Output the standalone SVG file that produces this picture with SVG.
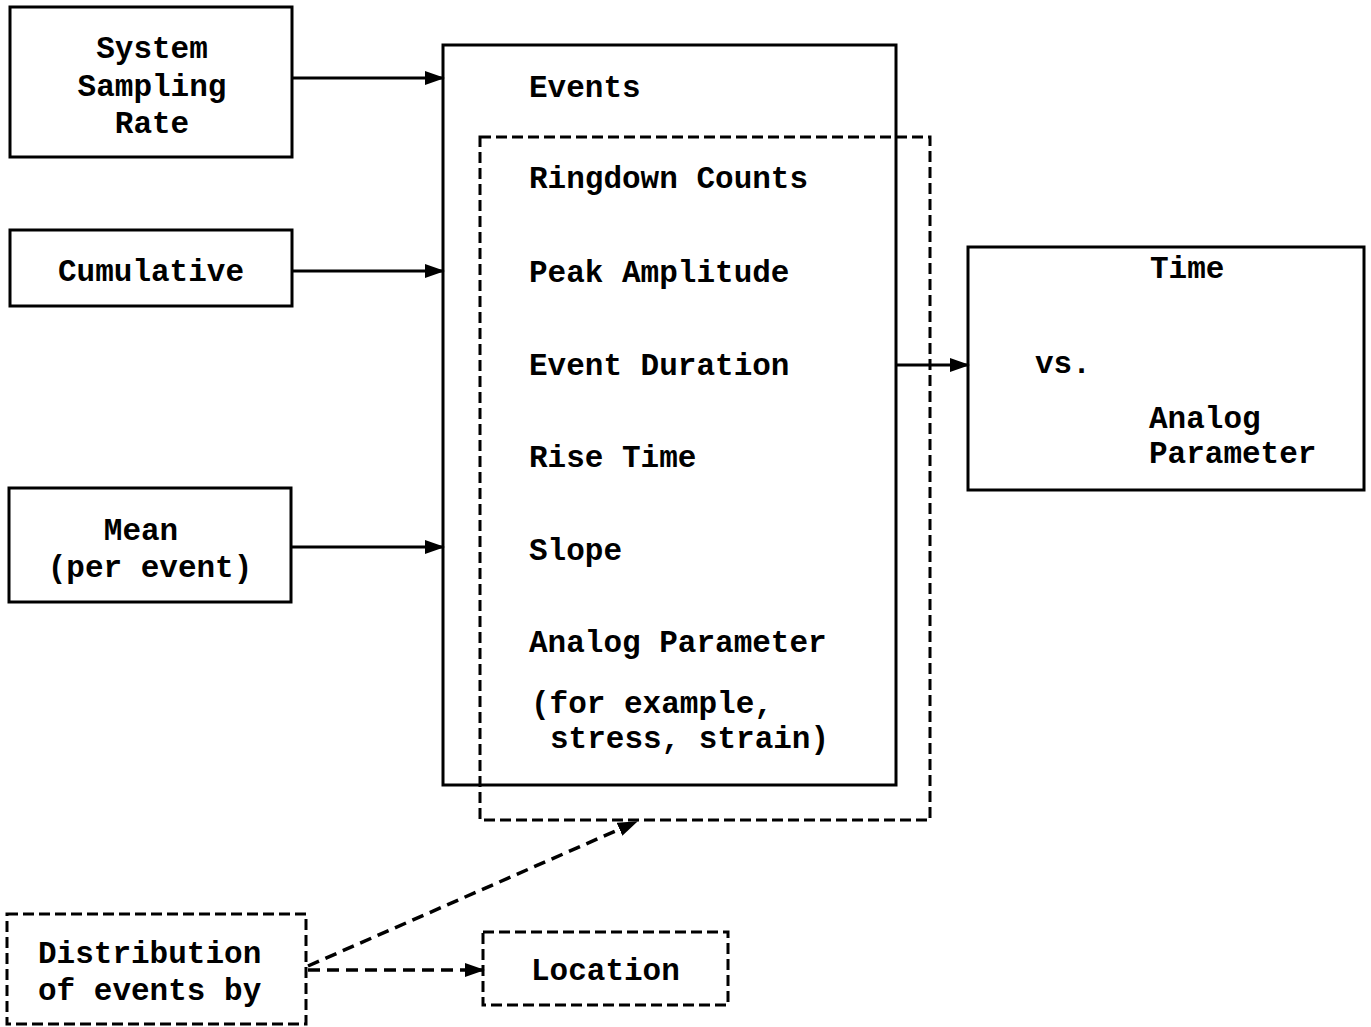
<svg xmlns="http://www.w3.org/2000/svg" width="1371" height="1027" viewBox="0 0 1371 1027">
<defs>
<style>
.box{fill:none;stroke:#000;stroke-width:3}
.dbox{fill:none;stroke:#000;stroke-width:3;stroke-dasharray:11 5}
.t{font-family:"Liberation Mono","DejaVu Sans Mono",monospace;font-weight:bold;font-size:31px;fill:#000}
.c{text-anchor:middle}
.ln{stroke:#000;stroke-width:3;fill:none}
.dl{stroke:#000;stroke-width:3.5;fill:none;stroke-dasharray:12 7}
</style>
<marker id="ahl" markerWidth="20" markerHeight="14" refX="18" refY="7" orient="auto" markerUnits="userSpaceOnUse">
<path d="M0,0 L20,7 L0,14 Z" fill="#000"/>
</marker>
</defs>
<rect width="1371" height="1027" fill="#fff"/>
<g id="connectors">
<line class="ln" x1="292" y1="78" x2="443" y2="78" marker-end="url(#ahl)"/>
<line class="ln" x1="292" y1="271" x2="443" y2="271" marker-end="url(#ahl)"/>
<line class="ln" x1="291" y1="547" x2="443" y2="547" marker-end="url(#ahl)"/>
<line class="ln" x1="896" y1="365" x2="968" y2="365" marker-end="url(#ahl)"/>
<line class="dl" x1="308" y1="966" x2="636" y2="822" marker-end="url(#ahl)"/>
<line class="dl" x1="308" y1="970" x2="483" y2="970" marker-end="url(#ahl)"/>
</g>
<g id="n-sampling">
<rect class="box" x="10" y="7" width="282" height="150"/>
<text class="t c" x="152" y="58">System</text>
<text class="t c" x="152" y="96">Sampling</text>
<text class="t c" x="152" y="133">Rate</text>
</g>
<g id="n-cumulative">
<rect class="box" x="10" y="230" width="282" height="76"/>
<text class="t c" x="151" y="281">Cumulative</text>
</g>
<g id="n-mean">
<rect class="box" x="9" y="488" width="282" height="114"/>
<text class="t c" x="141" y="540">Mean</text>
<text class="t c" x="150" y="577">(per event)</text>
</g>
<g id="n-events">
<rect class="box" x="443" y="45" width="453" height="740"/>
<text class="t" x="529" y="97">Events</text>
</g>
<g id="n-dashed">
<rect class="dbox" x="480" y="137" width="450" height="683"/>
<text class="t" x="529" y="188">Ringdown Counts</text>
<text class="t" x="529" y="282">Peak Amplitude</text>
<text class="t" x="529" y="375">Event Duration</text>
<text class="t" x="529" y="467">Rise Time</text>
<text class="t" x="529" y="560">Slope</text>
<text class="t" x="529" y="652">Analog Parameter</text>
<text class="t" x="531" y="713">(for example,</text>
<text class="t" x="550" y="748">stress, strain)</text>
</g>
<g id="n-time">
<rect class="box" x="968" y="247" width="396" height="243"/>
<text class="t" x="1150" y="278">Time</text>
<text class="t" x="1035" y="373">vs.</text>
<text class="t" x="1149" y="428">Analog</text>
<text class="t" x="1149" y="463">Parameter</text>
</g>
<g id="n-distribution">
<rect class="dbox" x="7" y="914" width="299" height="110"/>
<text class="t" x="38" y="963">Distribution</text>
<text class="t" x="38" y="1000">of events by</text>
</g>
<g id="n-location">
<rect class="dbox" x="483" y="932" width="245" height="73"/>
<text class="t" x="531" y="980">Location</text>
</g>
</svg>
